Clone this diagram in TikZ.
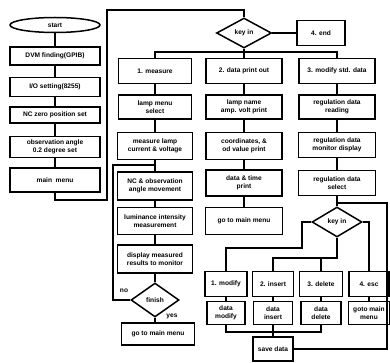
\documentclass[tikz,border=0pt]{standalone}
\usepackage{fontspec}
\setmainfont{Liberation Sans}
\usetikzlibrary{shapes.geometric}
\begin{document}
\begin{tikzpicture}[x=1pt,y=-1pt,
  txt/.style={font=\bfseries\fontsize{6.6}{7.8}\selectfont},
  box/.style={txt, draw, line width=1.5pt, align=center, inner sep=1pt},
  dia/.style={txt, draw, diamond, line width=1.5pt, inner sep=0pt},
  conn/.style={line width=1.4pt}]
\useasboundingbox (0,0) rectangle (390,363);
% left column
\node[box, ellipse, minimum width=90pt, minimum height=15pt] (start) at (55,25) {start};
\node[box, minimum width=90pt, minimum height=18pt] (dvm) at (55,56) {DVM finding(GPIB)};
\node[box, minimum width=90pt, minimum height=19pt] (io) at (55,87) {I/O setting(8255)};
\node[box, minimum width=90pt, minimum height=16pt] (ncz) at (55,115) {NC zero position set};
\node[box, minimum width=90pt, minimum height=21pt] (obs) at (55,147) {observation angle\\0.2 degree set};
\node[box, minimum width=90pt, minimum height=24pt] (mm) at (55,180) {main\ \ menu};
% top key in
\node[dia, minimum width=55pt, minimum height=30pt] (k1) at (244,33) {key in};
\node[box, minimum width=48pt, minimum height=25pt] (end) at (321,33) {4. end};
% column 1
\node[box, minimum width=73pt, minimum height=25pt] (m1) at (155,71) {1. measure};
\node[box, minimum width=73pt, minimum height=24pt] (m2) at (155,107) {lamp menu\\select};
\node[box, minimum width=75pt, minimum height=27pt] (m3) at (155,146) {measure lamp\\current \& voltage};
\node[box, minimum width=75pt, minimum height=28pt] (m4) at (155,186) {NC \& observation\\angle movement};
\node[box, minimum width=75pt, minimum height=27pt] (m5) at (155,221) {luminance intensity\\measurement};
\node[box, minimum width=75pt, minimum height=28pt] (m6) at (155,259) {display measured\\results to monitor};
\node[dia, minimum width=48pt, minimum height=34pt] (fin) at (155,300) {finish};
\node[box, minimum width=73pt, minimum height=22pt] (m7) at (158,334) {go to main menu};
\node[txt] (no) at (124,291) {no};
\node[txt] (yes) at (172,316) {yes};
% column 2
\node[box, minimum width=76pt, minimum height=25pt] (d1) at (244,71) {2. data print out};
\node[box, minimum width=76pt, minimum height=24pt] (d2) at (244,107) {lamp name\\amp. volt print};
\node[box, minimum width=76pt, minimum height=27pt] (d3) at (244,146) {coordinates, \&\\od value print};
\node[box, minimum width=76pt, minimum height=26pt] (d4) at (244,183) {data \& time\\print};
\node[box, minimum width=77pt, minimum height=27pt] (d5) at (244,221) {go to main menu};
% column 3
\node[box, minimum width=76pt, minimum height=25pt] (s1) at (337,71) {3. modify std. data};
\node[box, minimum width=76pt, minimum height=24pt] (s2) at (337,107) {regulation data\\reading};
\node[box, minimum width=77pt, minimum height=25pt] (s3) at (337,145) {regulation data\\monitor display};
\node[box, minimum width=77pt, minimum height=25pt] (s4) at (337,183) {regulation data\\select};
\node[dia, minimum width=50pt, minimum height=30pt] (k2) at (337,222) {key in};
% bottom rows
\node[box, minimum width=42pt, minimum height=25pt] (b1) at (226,284) {1. modify};
\node[box, minimum width=41pt, minimum height=25pt] (b2) at (273,284) {2. insert};
\node[box, minimum width=43pt, minimum height=25pt] (b3) at (321,284) {3. delete};
\node[box, minimum width=40pt, minimum height=25pt] (b4) at (369,284) {4. esc};
\node[box, minimum width=38pt, minimum height=23pt] (c1) at (226,313) {data\\modify};
\node[box, minimum width=39pt, minimum height=23pt] (c2) at (273,313) {data\\insert};
\node[box, minimum width=40pt, minimum height=23pt] (c3) at (321,313) {data\\delete};
\node[box, minimum width=41pt, minimum height=23pt] (c4) at (369,313) {goto main\\menu};
\node[box, minimum width=40pt, minimum height=24pt] (save) at (273,349) {save data};
% coordinates
\coordinate (lb) at (55,200);
\coordinate (top) at (107,10);
\coordinate (bus) at (244,52);
\coordinate (lp) at (113,165);
\coordinate (rt) at (387,203);
\coordinate (kw) at (302,248);
\coordinate (kb) at (337,258);
\coordinate (cb) at (273,332);
% connectors
\draw[conn] (start) -- (dvm) -- (io) -- (ncz) -- (obs) -- (mm);
\draw[conn] (mm.south) -- (lb) -| (top) -| (k1.north);
\draw[conn] (k1) -- (end);
\draw[conn] (k1.south) -- (bus);
\draw[conn] (m1.north) |- (bus) -| (s1.north);
\draw[conn] (bus) -- (d1.north);
\draw[conn] (m1) -- (m2) -- (m3) -- (m4) -- (m5) -- (m6) -- (fin);
\draw[conn] (fin.south) -- (fin.south |- m7.north);
\draw[conn] (fin.west) -| (lp) -- (lp -| m4.north);
\draw[conn] (d1) -- (d2) -- (d3) -- (d4) -- (d5);
\draw[conn] (s1) -- (s2) -- (s3) -- (s4) -- (k2);
\draw[conn] (save.east) -| (rt) -- (rt -| k2.north);
\draw[conn] (k2.west) -| (kw) -| (b1.north);
\draw[conn] (k2.south) -- (kb) -| (b2.north);
\draw[conn] (b3.north) -- (b3.north |- kb);
\draw[conn] (k2.east) -| (b4.north);
\draw[conn] (b1) -- (c1);
\draw[conn] (b2) -- (c2);
\draw[conn] (b3) -- (c3);
\draw[conn] (b4) -- (c4);
\draw[conn] (c1.south) |- (cb);
\draw[conn] (c3.south) |- (cb);
\draw[conn] (c2) -- (save);
\end{tikzpicture}
\end{document}
